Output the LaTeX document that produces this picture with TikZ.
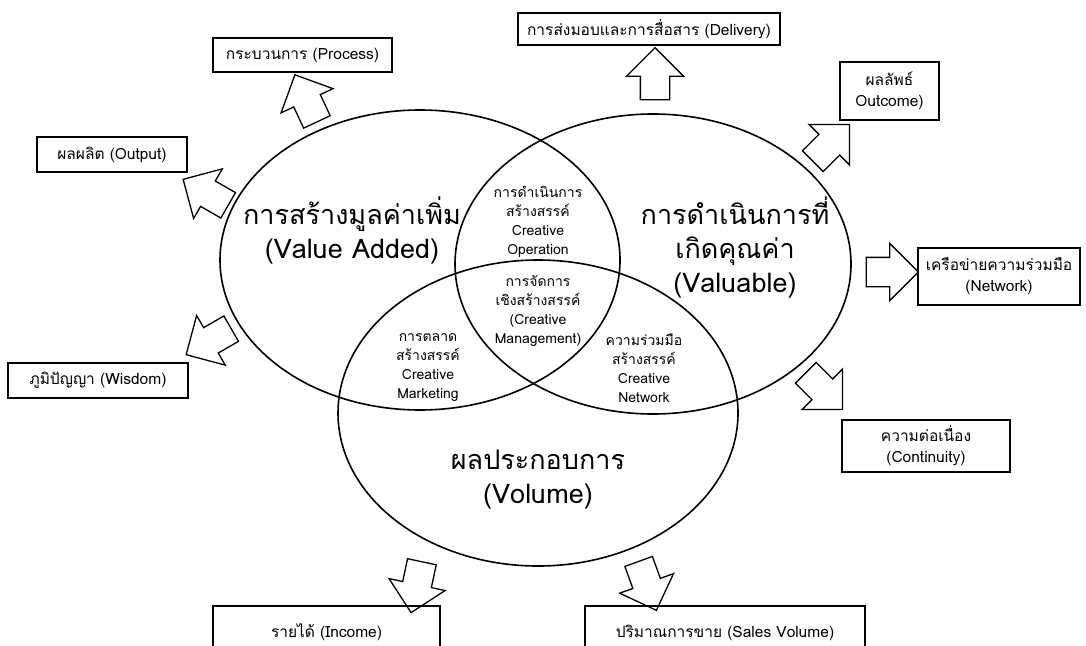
\documentclass[tikz,border=0pt]{standalone}
\usepackage{fontspec}
\newfontfamily\thaifont[Script=Thai]{Loma}
\usetikzlibrary{shapes.arrows}
\begin{document}
\begin{tikzpicture}
[x=1pt,y=-1pt,%
  every node/.style={font=\thaifont\fontsize{15.5}{21}\selectfont,align=center},
  circ/.style={line width=1.6pt},
  box/.style={draw,line width=1.1pt,inner sep=0pt},
  bigtext/.style={font=\thaifont\fontsize{27}{34}\selectfont},
  smalltext/.style={font=\thaifont\fontsize{14}{19}\selectfont},
  outarrow/.style={single arrow,draw,line width=1.3pt,inner xsep=0pt,
    inner ysep=14pt,minimum height=52pt,minimum width=0pt,
    single arrow head extend=14pt}]
\useasboundingbox (0,0) rectangle (1086,645);
\draw[circ] (420,260) ellipse [x radius=200,y radius=150];
\draw[circ] (653,264) ellipse [x radius=198,y radius=150];
\draw[circ] (538,413) ellipse [x radius=200,y radius=153];
\node[bigtext] (valueadded) at (352,230) {การสร้างมูลค่าเพิ่ม\\(Value Added)};
\node[bigtext] (valuable) at (735,247) {การดำเนินการที่\\เกิดคุณค่า\\(Valuable)};
\node[bigtext] (volume) at (538,480) {ผลประกอบการ\\(Volume)};
\node[smalltext] (operation) at (538,222) {การดำเนินการ\\สร้างสรรค์\\Creative\\Operation};
\node[smalltext] (management) at (538,311) {การจัดการ\\เชิงสร้างสรรค์\\(Creative\\Management)};
\node[smalltext] (marketing) at (428,368) {การตลาด\\สร้างสรรค์\\Creative\\Marketing};
\node[smalltext] (network) at (644,368) {ความร่วมมือ\\สร้างสรรค์\\Creative\\Network};
\node[box,minimum width=179pt,minimum height=34pt] (process) at (302.5,55) {กระบวนการ (Process)};
\node[box,minimum width=262pt,minimum height=32pt] (delivery) at (649,29) {การส่งมอบและการสื่อสาร (Delivery)};
\node[box,minimum width=99pt,minimum height=58pt] (outcome) at (889.5,91) {ผลลัพธ์\\Outcome)};
\node[box,minimum width=150pt,minimum height=35pt] (output) at (112,154.5) {ผลผลิต (Output)};
\node[box,minimum width=162pt,minimum height=57pt] (netbox) at (999,276.5) {เครือข่ายความร่วมมือ\\(Network)};
\node[box,minimum width=180pt,minimum height=35pt] (wisdom) at (98,380.5) {ภูมิปัญญา (Wisdom)};
\node[box,minimum width=168pt,minimum height=52pt] (continuity) at (926,446) {ความต่อเนื่อง\\(Continuity)};
\node[box,minimum width=227pt,text height=31pt,text depth=23pt] (income) at (326.5,633) {รายได้ (Income)};
\node[box,minimum width=280pt,text height=31pt,text depth=23pt] (sales) at (725,633) {ปริมาณการขาย (Sales Volume)};
\node[outarrow,rotate=115] (a1) at (309,105) {};
\node[outarrow,rotate=90] (a2) at (655,81) {};
\node[outarrow,rotate=45] (a3) at (826,148) {};
\node[outarrow,rotate=150] (a4) at (212,196) {};
\node[outarrow,rotate=0] (a5) at (885,272) {};
\node[outarrow,rotate=210] (a6) at (215,338) {};
\node[outarrow,rotate=-45] (a7) at (819,386) {};
\node[outarrow,rotate=-102] (a8) at (418,580) {};
\node[outarrow,rotate=-70] (a9) at (645,579) {};
\end{tikzpicture}
\end{document}
